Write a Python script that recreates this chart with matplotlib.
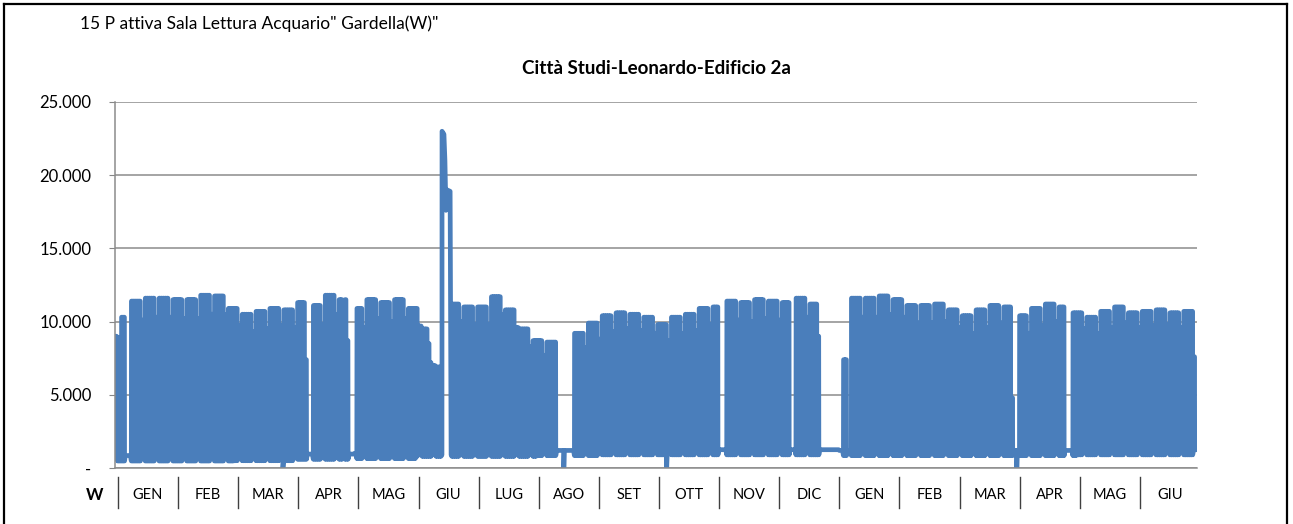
import numpy as np
import pandas as pd
import matplotlib
matplotlib.use('Agg')
import matplotlib.pyplot as plt
from matplotlib.lines import Line2D

# --- data (W) ---
months = ['GEN', 'FEB', 'MAR', 'APR', 'MAG', 'GIU', 'LUG', 'AGO', 'SET',
          'OTT', 'NOV', 'DIC', 'GEN', 'FEB', 'MAR', 'APR', 'MAG', 'GIU']

ytick_vals = [0, 5000, 10000, 15000, 20000, 25000]
ytick_labels = ['-', '5.000', '10.000', '15.000', '20.000', '25.000']

# weekday peak for each week (Monday start, from 2012-01-02)
week_peak = [10300, 11400, 11600, 11600, 11500, 11500, 11800, 11750, 10900, 10500,
             10700, 10900, 10800, 11300, 11100, 11800, 11500, 10900, 11500, 11300,
             11500, 10900, 9500, 6900, 11200, 11000, 11000, 11700, 10800, 9500,
             8700, 8600, 1000, 9200, 9900, 10400, 10600, 10500, 10300, 9800,
             10300, 10500, 10900, 11000, 11400, 11300, 11500, 11400, 11300, 11600,
             11200, 1000, 7400, 11600, 11600, 11750, 11500, 11100, 11100, 11200,
             10800, 10400, 10800, 11100, 11000, 10400, 10900, 11200, 11000, 10600,
             10300, 10700, 11000, 10600, 10700, 10800, 10600, 10700]

# night minimum, weekend night level and weekend peak drop, per month
night_base = [480, 480, 500, 600, 650, 800, 800, 850, 900,
              900, 900, 900, 850, 850, 850, 850, 900, 900]
weekend_base = [850, 850, 850, 950, 1000, 1200, 1200, 1200, 1250,
                1250, 1250, 1250, 1200, 1200, 1200, 1200, 1250, 1250]
weekend_drop = [1300, 1300, 1200, 1300, 1300, 1200, 1200, 1000, 1100,
                1100, 1300, 1300, 1300, 1200, 1200, 1200, 1100, 1000]

closed_periods = [('2012-01-06', '2012-01-08'), ('2012-04-07', '2012-04-09'),
                  ('2012-04-25', '2012-04-25'), ('2012-04-28', '2012-05-01'),
                  ('2012-08-11', '2012-08-19'), ('2012-11-01', '2012-11-04'),
                  ('2012-12-07', '2012-12-09'), ('2012-12-22', '2013-01-02'),
                  ('2013-03-30', '2013-04-01'), ('2013-04-25', '2013-04-28')]

reduced_days = {'2012-01-02': 8900, '2012-01-03': 8900, '2012-04-06': 7400,
                '2012-04-27': 8700, '2012-06-07': 8500, '2012-06-08': 7200,
                '2012-06-09': 7000, '2012-06-10': 7000, '2012-12-21': 9000,
                '2013-01-05': 1200, '2013-01-06': 1200, '2013-03-29': 4800,
                '2013-06-29': 7600, '2013-06-30': 1250}

dip_days = ['2012-03-25', '2012-08-14', '2012-10-05', '2013-03-31']

spike_times = ['2012-06-14 07:00', '2012-06-14 08:00', '2012-06-15 07:00',
               '2012-06-15 19:00', '2012-06-16 07:00', '2012-06-16 19:00',
               '2012-06-18 10:00', '2012-06-18 22:00']
spike_vals = [900, 23000, 22800, 21000, 17600, 19000, 18900, 900]

# --- build the day/night profile ---
days = pd.date_range('2012-01-01', '2013-06-30', freq='D')
closed = set()
for a, b in closed_periods:
    closed.update(pd.date_range(a, b))
spike_ts = pd.to_datetime(spike_times)
spike_days = set(pd.date_range(spike_ts[0].normalize(), spike_ts[-1].normalize()))

t, v = [], []
for d, day in enumerate(days):
    if day in spike_days:
        continue
    mi = (day.year - 2012) * 12 + day.month - 1
    nb, wb = night_base[mi], weekend_base[mi]
    key = day.strftime('%Y-%m-%d')
    wk_peak = week_peak[min(max(d - 1, 0) // 7, len(week_peak) - 1)]
    if day in closed:
        t += [d + 0.2, d + 0.8]
        v += [wb, wb]
    else:
        if day.weekday() >= 5:
            pk = wk_peak - weekend_drop[mi]
            low = wb
        else:
            pk = wk_peak
            low = nb
        pk = reduced_days.get(key, pk)
        t += [d + 0.25, d + 0.33, d + 0.75, d + 0.83]
        v += [low, pk, pk, low]
    if key in dip_days:
        t.append(d + 0.9)
        v.append(0)

t += list((spike_ts - days[0]) / pd.Timedelta('1D'))
v += spike_vals
order = np.argsort(t)
t = np.array(t)[order]
v = np.array(v)[order]

# --- figure ---
W, H = 1293, 524
fig = plt.figure(figsize=(W / 100, H / 100), dpi=100)
ax = fig.add_axes([115 / W, 1 - 468 / H, (1197 - 115) / W, (468 - 102) / H])

ax.plot(t, v, color='#4A7EBB', lw=3.4, solid_joinstyle='round', solid_capstyle='round')

ndays = len(days)
ax.set_xlim(0, ndays)
ax.set_ylim(0, 25000)
ax.set_yticks(ytick_vals)
ax.set_yticklabels(ytick_labels, fontsize=12, family='Lato')
ax.tick_params(axis='y', length=4, color='#868686', pad=13)
ax.set_xticks([])
ax.grid(axis='y', color='#8c8c8c', lw=1.1)
ax.set_axisbelow(True)
for s in ['top', 'right']:
    ax.spines[s].set_visible(False)
for s in ['left', 'bottom']:
    ax.spines[s].set_color('#8c8c8c')
    ax.spines[s].set_linewidth(1.1)

# month category axis
tr = ax.get_xaxis_transform()
mw = ndays / len(months)
for i, m in enumerate(months):
    ax.add_line(Line2D([i * mw + 1.5, i * mw + 1.5], [-0.025, -0.11], transform=tr,
                       color='#404040', lw=1.0, clip_on=False))
    ax.text((i + 0.5) * mw + 1.5, -0.074, m, transform=tr, ha='center', va='center',
            fontsize=10.5, family=['Liberation Sans Narrow', 'Lato'])

fig.text(95 / W, 1 - 495 / H, 'W', ha='center', va='center', fontsize=12,
         fontweight='bold', family='Lato')
fig.text(80 / W, 1 - 24 / H, '15 P attiva Sala Lettura Acquario" Gardella(W)"',
         ha='left', va='center', fontsize=12.5, family='Lato')
fig.text(656 / W, 1 - 69 / H, 'Città Studi-Leonardo-Edificio 2a', ha='center',
         va='center', fontsize=13.5, fontweight='bold', family='Lato')

# outer frame
for xs, ys in [([4, 4], [0, H - 4]), ([4, W - 6], [H - 4, H - 4]),
               ([W - 6, W - 6], [0, H - 4])]:
    fig.add_artist(Line2D([x / W for x in xs], [y / H for y in ys],
                          transform=fig.transFigure, color='black', lw=1.6))

fig.savefig('out.png', dpi=100)
